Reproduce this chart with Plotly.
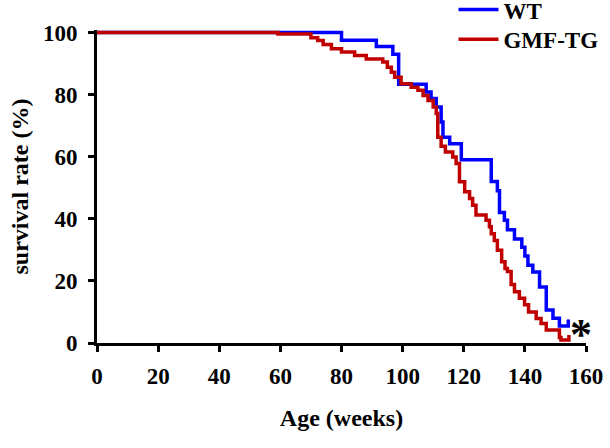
import plotly.graph_objects as go

# WT (blue) Kaplan-Meier step points: time (weeks) -> survival (%) after the step
wt_weeks = [0, 80, 91.4, 96.8, 98.7, 107.7, 109.3, 111, 112.6, 113.2, 115.4, 119.2,
            129, 131, 131.7, 133.3, 134.3, 136.6, 139, 140, 141, 142.6, 144.8,
            147, 149.2, 151.3, 154.2]
wt_surv = [100, 97.5, 95.5, 93, 83.3, 80.8, 78.7, 76, 71.2, 66.3, 64.2, 59,
           52, 49, 42, 39.5, 36.5, 33.5, 30.8, 28, 25, 22.9, 18,
           10.6, 8, 5.5, 7.6]

# GMF-TG (red)
tg_weeks = [0, 59.2, 70, 72.2, 74, 76.7, 80, 84.3, 88.1, 93.5, 95, 96.3, 97.4, 99.5,
            102.8, 105, 106.7, 108.3, 110, 111, 111.5, 112.6, 114, 116.4, 117.5,
            118.6, 120.3, 121.9, 122.9, 124, 127.3, 128.4, 129, 130, 131, 132.4,
            133.5, 134.3, 135.5, 136.6, 138.2, 139.9, 141.2, 143.7, 145.3, 147,
            151.3, 151.8, 154.4]
tg_surv = [100, 99.5, 98.3, 97.4, 96.1, 94.8, 93.7, 92.6, 91.5, 90.5, 88.8, 87.2, 85.6, 83.5,
           82.4, 81.4, 79.7, 78.1, 76, 73.9, 66.3, 63.4, 61.5, 59.9, 57.8,
           51.9, 48.7, 46.5, 44.4, 41.2, 39.5, 37.4, 35.2, 33, 29.9, 26.2,
           24, 23, 18.8, 16.5, 14.4, 12.3, 10, 7.9, 6.3, 4.2,
           1.8, 1, 2.6]

x_ticks = [0, 20, 40, 60, 80, 100, 120, 140, 160]
y_ticks = [0, 20, 40, 60, 80, 100]

FONT = "Liberation Serif"
LEG_FONT = dict(family=FONT, size=23, weight="bold", color="black")

fig = go.Figure()
fig.add_trace(go.Scatter(x=wt_weeks, y=wt_surv, mode="lines", name="WT", legend="legend",
                         line=dict(color="#0000ff", width=3.5, shape="hv")))
fig.add_trace(go.Scatter(x=tg_weeks, y=tg_surv, mode="lines", name="GMF-TG", legend="legend2",
                         line=dict(color="#c00000", width=3.5, shape="hv")))

fig.add_annotation(x=158.5, y=4.8, xref="x", yref="y", text="*", showarrow=False,
                   font=dict(family=FONT, size=44, color="black", weight="bold"),
                   yshift=-6)

fig.update_layout(
    width=610, height=448,
    margin=dict(l=97, r=24, t=29.5, b=105, autoexpand=False),
    paper_bgcolor="white", plot_bgcolor="white",
    font=dict(family=FONT, color="black"),
    showlegend=True,
    legend=dict(x=0.729, y=1.065, xanchor="left", yanchor="middle",
                font=LEG_FONT, bgcolor="rgba(0,0,0,0)", itemwidth=40),
    legend2=dict(x=0.729, y=0.970, xanchor="left", yanchor="middle",
                 font=LEG_FONT, bgcolor="rgba(0,0,0,0)", itemwidth=40),
    xaxis=dict(range=[0, 160], tickvals=x_ticks, showgrid=False, zeroline=False,
               showline=True, linecolor="black", linewidth=3,
               ticks="outside", ticklen=6, tickwidth=3, tickcolor="black",
               tickfont=dict(family=FONT, size=23, weight="bold", color="black"),
               ticklabelstandoff=4,
               title=dict(text="Age (weeks)", standoff=22,
                          font=dict(family=FONT, size=24, weight="bold", color="black"))),
    yaxis=dict(range=[0, 100.8], tickvals=y_ticks, showgrid=False, zeroline=False,
               showline=True, linecolor="black", linewidth=3,
               ticks="outside", ticklen=6, tickwidth=3, tickcolor="black",
               tickfont=dict(family=FONT, size=23, weight="bold", color="black"),
               ticklabelstandoff=6,
               title=dict(text="survival rate (%)", standoff=8,
                          font=dict(family=FONT, size=24, weight="bold", color="black"))),
)

fig.write_html("out.html")
